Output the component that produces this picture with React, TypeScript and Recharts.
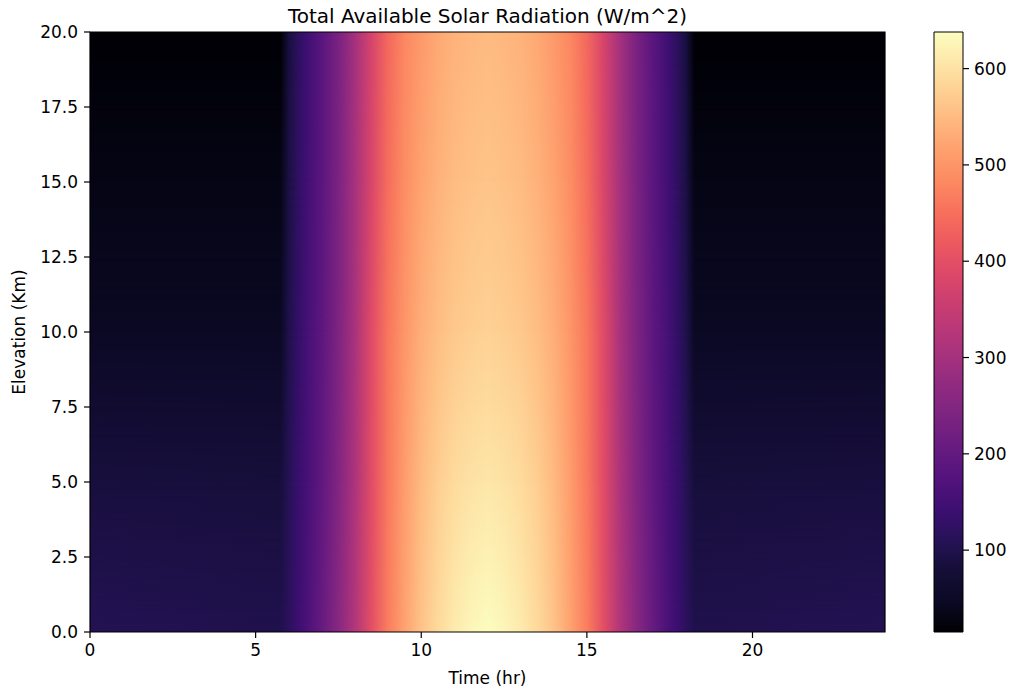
import React from 'react';
import { ComposedChart, XAxis, YAxis, ReferenceArea, Customized } from 'recharts';

// ---- data ----
const hours = [0, 5.75, 6, 6.25, 6.5, 7, 7.5, 8, 8.5, 9, 9.5, 10, 10.5, 11, 11.5, 12, 12.5, 13, 13.5, 14, 14.5, 15, 15.5, 16, 16.5, 17, 17.5, 17.75, 18, 18.25, 24];
const elevations = [0, 5, 10, 15, 20];
const radiation0km = [106, 100, 118, 138, 158, 205, 258, 320, 400, 468, 518, 560, 590, 612, 628, 638, 628, 612, 590, 560, 518, 468, 400, 320, 258, 205, 158, 138, 118, 100, 106];
const radiation5km = [85, 82, 108, 133, 153, 196, 248, 312, 394, 462, 510, 549, 574, 591, 601, 605, 601, 591, 574, 549, 510, 462, 394, 312, 248, 196, 153, 133, 108, 82, 85];
const radiation10km = [47, 47, 98, 126, 149, 190, 241, 306, 392, 460, 500, 533, 553, 566, 574, 578, 574, 566, 553, 533, 500, 460, 392, 306, 241, 190, 149, 126, 98, 47, 47];
const radiation15km = [32, 32, 90, 120, 144, 187, 238, 303, 381, 448, 490, 518, 538, 551, 558, 561, 558, 551, 538, 518, 490, 448, 381, 303, 238, 187, 144, 120, 90, 32, 32];
const radiation20km = [16, 16, 85, 115, 140, 185, 235, 300, 375, 440, 480, 505, 525, 538, 545, 548, 545, 538, 525, 505, 480, 440, 375, 300, 235, 185, 140, 115, 85, 16, 16];
const rows = [radiation0km, radiation5km, radiation10km, radiation15km, radiation20km];

const xTicks = [0, 5, 10, 15, 20];
const yTicks = [0, 2.5, 5, 7.5, 10, 12.5, 15, 17.5, 20];
const colorbarTicks = [100, 200, 300, 400, 500, 600];
const valueMin = 15;
const valueMax = 638;
const hourDomain = [0, 24];
const elevationDomain = [0, 20];

// ---- magma colormap ----
const MAGMA = ['#000004', '#0b0924', '#140e36', '#251255', '#3b0f70', '#51127c', '#641a80', '#782281', '#8c2981', '#a1307e', '#b73779', '#cb3e71', '#de4968', '#ed5a5f', '#f7705c', '#fc8961', '#fe9f6d', '#feb77e', '#fecf92', '#fde7a9', '#fcfdbf'];
const hexToRgb = (h: string) => [parseInt(h.slice(1, 3), 16), parseInt(h.slice(3, 5), 16), parseInt(h.slice(5, 7), 16)];
const MAGMA_RGB = MAGMA.map(hexToRgb);
function magmaAt(t: number) {
  const c = Math.max(0, Math.min(1, t));
  const p = c * (MAGMA_RGB.length - 1);
  const i = Math.min(MAGMA_RGB.length - 2, Math.floor(p));
  const f = p - i;
  const a = MAGMA_RGB[i];
  const b = MAGMA_RGB[i + 1];
  const m = a.map((v, k) => Math.round(v + (b[k] - v) * f));
  return `rgb(${m[0]},${m[1]},${m[2]})`;
}
const colorFor = (v: number) => magmaAt((v - valueMin) / (valueMax - valueMin));

const FONT = 'DejaVu Sans';
const tickStyle = { fill: '#000', fontSize: 17, fontFamily: FONT };

const Labels = () => (
  <g fontFamily={FONT} fill="#000">
    <text x={479.5} y={23} textAnchor="middle" fontSize={20}>Total Available Solar Radiation (W/m^2)</text>
    <text x={479.5} y={684} textAnchor="middle" fontSize={17}>Time (hr)</text>
    <text x={17} y={332} textAnchor="middle" fontSize={17} transform="rotate(-90 17 332)">Elevation (Km)</text>
  </g>
);

export default function App() {
  const segments = elevations.slice(0, -1).map((e, i) => ({ lo: e, hi: elevations[i + 1], i }));
  return (
    <div style={{ display: 'flex', width: 998, marginTop: -8 }}>
      <div style={{ flex: 'none' }}>
        <ComposedChart width={900} height={688} margin={{ top: 32, right: 23, bottom: 16, left: 22 }} data={hours.map((h) => ({ x: h }))}>
          <defs>
            {rows.map((row, r) => (
              <linearGradient key={r} id={`row-${r}`} x1="0" y1="0" x2="1" y2="0">
                {row.map((v, j) => (
                  <stop key={j} offset={(hours[j] - hourDomain[0]) / (hourDomain[1] - hourDomain[0])} stopColor={colorFor(v)} />
                ))}
              </linearGradient>
            ))}
            <linearGradient id="vfade" x1="0" y1="1" x2="0" y2="0">
              <stop offset="0" stopColor="#fff" stopOpacity={0} />
              <stop offset="1" stopColor="#fff" stopOpacity={1} />
            </linearGradient>
            <mask id="fadeUp" maskContentUnits="objectBoundingBox">
              <rect x="0" y="0" width="1" height="1" fill="url(#vfade)" />
            </mask>
          </defs>
          <XAxis
            type="number"
            dataKey="x"
            domain={hourDomain}
            ticks={xTicks}
            interval={0}
            allowDataOverflow
            axisLine={false}
            tickLine={{ stroke: '#000', strokeWidth: 1.2 }}
            tickSize={6}
            tickMargin={6}
            height={40}
            tick={tickStyle}
          />
          <YAxis
            type="number"
            domain={elevationDomain}
            ticks={yTicks}
            interval={0}
            allowDataOverflow
            axisLine={false}
            tickLine={{ stroke: '#000', strokeWidth: 1.2 }}
            tickSize={6}
            tickMargin={6}
            width={60}
            tick={tickStyle}
            tickFormatter={(v: number) => v.toFixed(1)}
          />
          {segments.map((s) => (
            <ReferenceArea
              key={`base-${s.i}`}
              x1={hourDomain[0]}
              x2={hourDomain[1]}
              y1={s.lo}
              y2={s.hi}
              fill={`url(#row-${s.i})`}
              fillOpacity={1}
              stroke="none"
              ifOverflow="visible"
            />
          ))}
          {segments.map((s) => (
            <ReferenceArea
              key={`blend-${s.i}`}
              x1={hourDomain[0]}
              x2={hourDomain[1]}
              y1={s.lo}
              y2={s.hi}
              ifOverflow="visible"
              shape={(p: any) => (
                <rect x={p.x} y={p.y} width={p.width} height={p.height} fill={`url(#row-${s.i + 1})`} mask="url(#fadeUp)" />
              )}
            />
          ))}
          <ReferenceArea
            x1={hourDomain[0]}
            x2={hourDomain[1]}
            y1={elevationDomain[0]}
            y2={elevationDomain[1]}
            fill="none"
            fillOpacity={0}
            stroke="#000"
            strokeWidth={1.2}
            ifOverflow="visible"
          />
          <Customized component={Labels} />
        </ComposedChart>
      </div>
      <div style={{ flex: 'none' }}>
        <ComposedChart width={98} height={688} margin={{ top: 32, right: 0, bottom: 56, left: 26 }} data={[{ x: 0 }, { x: 1 }]}>
          <defs>
            <linearGradient id="cbar" x1="0" y1="1" x2="0" y2="0">
              {MAGMA.map((c, i) => (
                <stop key={i} offset={i / (MAGMA.length - 1)} stopColor={c} />
              ))}
            </linearGradient>
          </defs>
          <XAxis type="number" dataKey="x" domain={[0, 1]} hide height={0} />
          <YAxis
            type="number"
            orientation="right"
            domain={[valueMin, valueMax]}
            ticks={colorbarTicks}
            interval={0}
            allowDataOverflow
            axisLine={false}
            tickLine={{ stroke: '#000', strokeWidth: 1.2 }}
            tickSize={6}
            tickMargin={5}
            width={43}
            tick={tickStyle}
          />
          <ReferenceArea
            x1={0}
            x2={1}
            y1={valueMin}
            y2={valueMax}
            fill="url(#cbar)"
            fillOpacity={1}
            stroke="#000"
            strokeWidth={1}
            ifOverflow="visible"
          />
        </ComposedChart>
      </div>
    </div>
  );
}
